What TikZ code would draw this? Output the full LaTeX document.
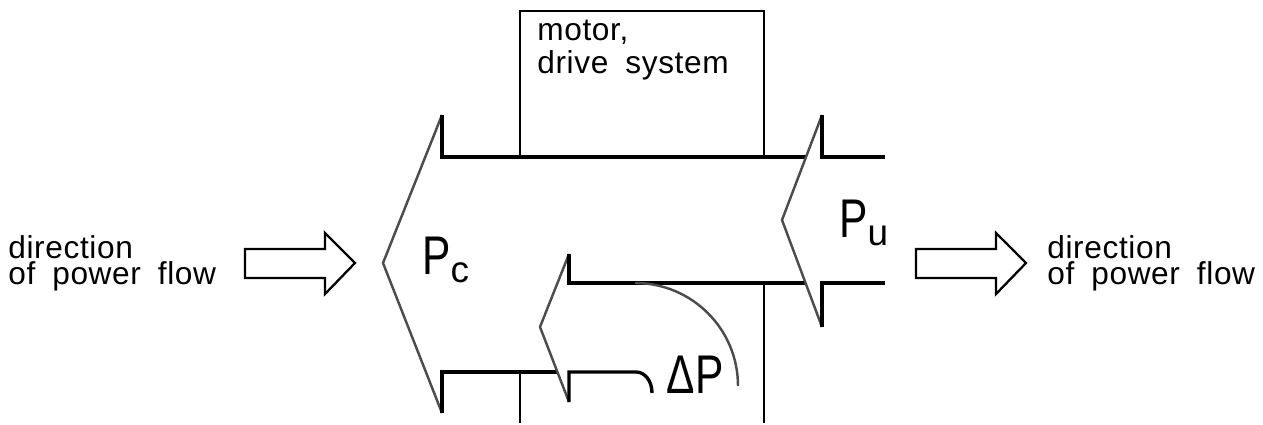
\documentclass[tikz,border=0pt]{standalone}
\usepackage{graphicx}
\usepackage{fontspec}
\setmainfont{Liberation Sans}[WordSpace=1.8, LetterSpace=2]
\colorlet{slantgray}{black!70}
\newcommand{\lowidx}[1]{\raisebox{-4.5pt}{\fontsize{21}{21}\selectfont #1}}
\newcommand{\narrowcap}[1]{\scalebox{0.78}[1]{#1}}
\tikzset{
  flowline/.style={line width=1.9pt},
  slantline/.style={line width=1.4pt, slantgray, line join=round},
  boxline/.style={line width=0.8pt},
  hollowarrow/.style={line width=1.3pt, line join=miter},
  label/.style={inner sep=0pt, anchor=base west},
  bigsym/.style={label, font=\fontsize{31}{31}\selectfont}
}
\begin{document}
\begin{tikzpicture}[x=0.02cm, y=-0.02cm]
  \useasboundingbox (0,0) rectangle (1263,425);
  % motor box, hidden where the power arrows run through it
  \draw[boxline] (520,157) -- (520,11) -- (764,11) -- (764,157);
  \draw[boxline] (520,372) -- (520,423);
  \draw[boxline] (764,283) -- (764,423);
  \node[label, font=\fontsize{18}{19.3}\selectfont, align=left] (motortxt) at (537,74) {motor,\\drive system};
  % big arrow P_c
  \draw[slantline] (442,115) -- (383,263) -- (442,413);
  \draw[flowline] (442,115) -- (442,157) -- (806,157);
  \draw[flowline] (442,413) -- (442,372) -- (557,372);
  % loss arrow Delta P, bending down
  \draw[slantline] (569,254) -- (540,327) -- (569,402);
  \draw[flowline] (569,254) -- (569,283) -- (806,283);
  \draw[flowline] (569,402) -- (569,372) -- (636,372)
    .. controls (645,372) and (652,381) .. (652,393);
  \draw[slantline] (635,283) .. controls (692,283) and (738,329) .. (738,386);
  % arrow P_u
  \draw[slantline] (822,115) -- (782,220) -- (822,327);
  \draw[flowline] (822,115) -- (822,157) -- (885,157);
  \draw[flowline] (822,327) -- (822,283) -- (885,283);
  % labels
  \node[bigsym] (pc) at (422,275) {\narrowcap{P}\lowidx{c}};
  \node[bigsym] (pu) at (839,238) {\narrowcap{P}\lowidx{u}};
  \node[bigsym] (dp) at (666,393) {\narrowcap{ΔP}};
  % direction of power flow, in and out
  \foreach \dx in {0,671} {
    \draw[hollowarrow] (245+\dx,249) -- (325+\dx,249) -- (325+\dx,233) -- (355+\dx,263)
      -- (325+\dx,294) -- (325+\dx,278) -- (245+\dx,278) -- cycle;
  }
  \node[label, font=\fontsize{18}{14.8}\selectfont, align=left] (flowin) at (8,285) {direction\\of power flow};
  \node[label, font=\fontsize{18}{14.8}\selectfont, align=left] (flowout) at (1047,285) {direction\\of power flow};
\end{tikzpicture}
\end{document}
